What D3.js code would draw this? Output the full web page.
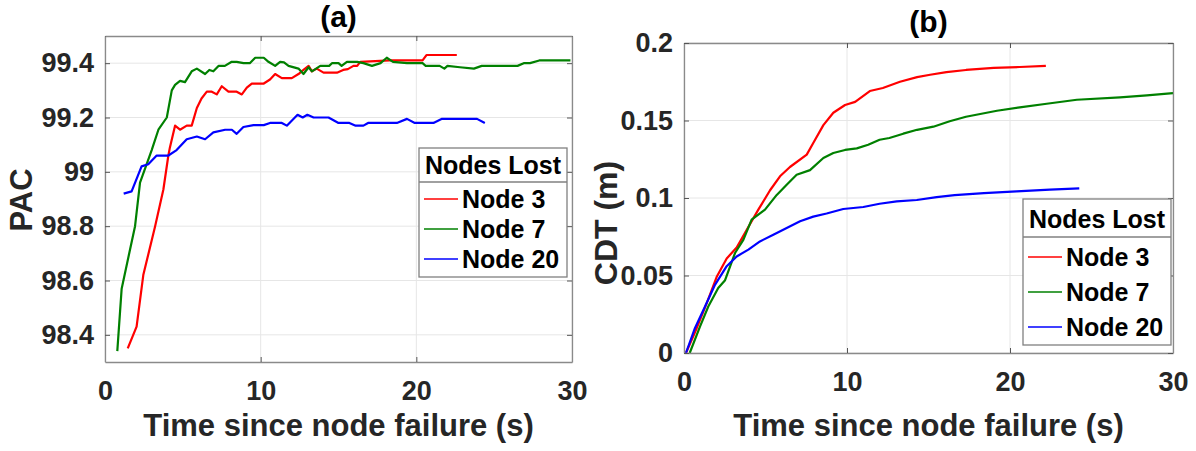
<!DOCTYPE html>
<html>
<head>
<meta charset="utf-8">
<script src="https://cdn.jsdelivr.net/npm/d3@7"></script>
<style>
  body { margin: 0; background: #fff; }
  text { font-family: "Liberation Sans", Arial, sans-serif; font-weight: bold; }
</style>
</head>
<body>
<svg id="chart" width="1196" height="451"></svg>
<script>
// series names + colours
var seriesNames = ['Node 3', 'Node 7', 'Node 20']
var seriesColors = ['#ff0000', '#008000', '#0000ff']

// (a) PAC vs time, [t, value]
var pacNode3 = [[1.46,98.35],[2.03,98.43],[2.46,98.62],[3.22,98.80],[3.75,98.935],[4.07,99.06],[4.17,99.09],[4.5,99.17],[4.82,99.155],[5.25,99.17],[5.57,99.17],[5.9,99.235],[6.2,99.27],[6.54,99.295],[6.86,99.295],[7.18,99.285],[7.5,99.315],[7.93,99.295],[8.46,99.295],[8.79,99.285],[9.11,99.31],[9.43,99.325],[10.2,99.325],[10.6,99.34],[10.93,99.36],[11.36,99.345],[12.0,99.345],[12.43,99.36],[12.75,99.375],[13.08,99.39],[13.29,99.37],[13.6,99.38],[14.04,99.365],[14.9,99.365],[15.3,99.375],[15.6,99.378],[15.96,99.39],[16.2,99.39],[16.4,99.405],[18.3,99.41],[20.4,99.41],[20.65,99.43],[22.6,99.43]]
var pacNode7 = [[0.79,98.34],[1.07,98.57],[1.93,98.80],[2.25,98.96],[3.0,99.08],[3.43,99.155],[3.97,99.20],[4.29,99.30],[4.5,99.32],[4.82,99.335],[5.14,99.33],[5.57,99.37],[5.9,99.38],[6.43,99.36],[6.7,99.375],[6.96,99.37],[7.29,99.39],[7.7,99.39],[8.14,99.405],[8.46,99.405],[8.9,99.40],[9.3,99.40],[9.65,99.42],[10.2,99.42],[10.5,99.405],[10.93,99.39],[11.25,99.405],[11.5,99.403],[11.79,99.39],[12.43,99.38],[12.75,99.36],[13.08,99.385],[13.29,99.37],[13.83,99.39],[14.4,99.39],[14.58,99.40],[15.0,99.40],[15.2,99.39],[15.54,99.405],[16.2,99.405],[16.6,99.40],[17.15,99.39],[17.7,99.40],[18.1,99.42],[18.5,99.405],[19.4,99.40],[20.4,99.40],[20.6,99.39],[21.5,99.39],[21.8,99.38],[22.0,99.39],[22.8,99.385],[23.7,99.38],[24.2,99.39],[26.5,99.39],[26.9,99.40],[27.3,99.40],[27.9,99.41],[29.9,99.41]]
var pacNode20 = [[1.2,98.92],[1.71,98.928],[2.35,99.02],[2.78,99.028],[3.32,99.06],[4.07,99.06],[4.6,99.08],[5.25,99.12],[5.9,99.13],[6.43,99.12],[6.96,99.145],[7.72,99.155],[8.15,99.155],[8.46,99.14],[8.89,99.165],[9.54,99.172],[10.2,99.172],[10.6,99.18],[11.36,99.18],[11.68,99.17],[12.37,99.21],[12.7,99.20],[13.0,99.21],[13.4,99.20],[14.36,99.20],[15.0,99.18],[15.7,99.18],[16.1,99.17],[16.6,99.17],[16.9,99.18],[18.75,99.18],[19.4,99.195],[19.9,99.18],[21.1,99.18],[21.65,99.195],[23.9,99.195],[24.4,99.18]]

// (b) CDT vs time, [t, value]
var cdtNode3 = [[0.12,0],[0.78,0.016],[1.39,0.032],[2.0,0.049],[2.62,0.061],[3.23,0.068],[3.85,0.0795],[4.56,0.0925],[5.28,0.105],[5.89,0.114],[6.5,0.120],[7.53,0.128],[7.93,0.1355],[8.55,0.147],[9.16,0.155],[9.88,0.160],[10.5,0.162],[11.4,0.169],[12.2,0.171],[13.25,0.175],[14.3,0.178],[15.1,0.1795],[16.1,0.1812],[17.3,0.1826],[19.0,0.1839],[20.6,0.1845],[22.2,0.1853]]
var cdtNode7 = [[0.35,0],[0.98,0.017],[1.49,0.030],[2.1,0.042],[2.52,0.047],[3.13,0.0645],[3.64,0.073],[4.15,0.086],[4.97,0.0925],[5.69,0.102],[6.3,0.1086],[6.91,0.115],[7.73,0.118],[8.55,0.1258],[9.16,0.129],[9.88,0.131],[10.6,0.132],[11.3,0.1344],[12.0,0.1376],[12.6,0.1387],[13.45,0.1415],[14.3,0.144],[15.3,0.146],[16.3,0.1495],[17.3,0.1524],[19.2,0.1563],[20.6,0.1585],[22.25,0.1608],[24.1,0.1634],[26.75,0.1649],[28.4,0.1662],[30.0,0.1677]]
var cdtNode20 = [[0.12,0],[0.67,0.016],[1.29,0.030],[1.9,0.044],[2.62,0.056],[3.23,0.0623],[3.95,0.0667],[4.66,0.072],[5.48,0.0763],[6.3,0.0806],[7.12,0.085],[7.93,0.088],[8.75,0.090],[9.77,0.0929],[11.0,0.0942],[12.0,0.0963],[13.05,0.0978],[14.28,0.0987],[15.5,0.1006],[16.6,0.1018],[18.4,0.1032],[20.4,0.1043],[22.45,0.1054],[24.25,0.1062]]

var xTicks = [0, 10, 20, 30]
var pacTicks = [98.4, 98.6, 98.8, 99, 99.2, 99.4]
var cdtTicks = [0, 0.05, 0.1, 0.15, 0.2]

var svg = d3.select('#chart')

function panel(cfg) {
  var x = d3.scaleLinear().domain([0, 30]).range([cfg.left, cfg.right])
  var y = d3.scaleLinear().domain(cfg.yDomain).range([cfg.bottom, cfg.top])
  var g = svg.append('g')

  // grid
  g.selectAll('.gx').data(xTicks).enter().append('line')
    .attr('x1', d => x(d)).attr('x2', d => x(d))
    .attr('y1', cfg.top).attr('y2', cfg.bottom)
    .attr('stroke', '#e6e6e6').attr('stroke-width', 1)
  g.selectAll('.gy').data(cfg.yTicks).enter().append('line')
    .attr('x1', cfg.left).attr('x2', cfg.right)
    .attr('y1', d => y(d)).attr('y2', d => y(d))
    .attr('stroke', '#e6e6e6').attr('stroke-width', 1)

  // lines
  var line = d3.line().x(d => x(d[0])).y(d => y(d[1]))
  cfg.series.forEach(function(s, i) {
    g.append('path').datum(s)
      .attr('d', line)
      .attr('fill', 'none')
      .attr('stroke', seriesColors[i])
      .attr('stroke-width', 2.2)
      .attr('stroke-linejoin', 'round')
  })

  // axes (inward ticks, mirrored box)
  var tk = 5
  var bottom = g.append('g').attr('transform', 'translate(0,' + cfg.bottom + ')')
    .call(d3.axisBottom(x).tickValues(xTicks).tickSizeInner(-tk).tickSizeOuter(0).tickPadding(12))
  var top = g.append('g').attr('transform', 'translate(0,' + cfg.top + ')')
    .call(d3.axisTop(x).tickValues(xTicks).tickSizeInner(-tk).tickSizeOuter(0).tickFormat(''))
  var left = g.append('g').attr('transform', 'translate(' + cfg.left + ',0)')
    .call(d3.axisLeft(y).tickValues(cfg.yTicks).tickSizeInner(-tk).tickSizeOuter(0).tickPadding(11)
      .tickFormat(d3.format('')))
  var right = g.append('g').attr('transform', 'translate(' + cfg.right + ',0)')
    .call(d3.axisRight(y).tickValues(cfg.yTicks).tickSizeInner(-tk).tickSizeOuter(0).tickFormat(''))
  ;[bottom, top, left, right].forEach(function(a) {
    a.select('.domain').attr('stroke', '#8a8a8a').attr('stroke-width', 1.3)
    a.selectAll('.tick line').attr('stroke', '#555')
    a.selectAll('.tick text').attr('fill', '#262626')
      .style('font-size', '27px').style('font-family', '"Liberation Sans", Arial, sans-serif')
      .style('font-weight', 'bold')
  })
  bottom.selectAll('.tick text').attr('dy', '0.95em')

  // title
  g.append('text').attr('x', (cfg.left + cfg.right) / 2).attr('y', cfg.titleY)
    .attr('text-anchor', 'middle').style('font-size', '30px').attr('fill', '#000')
    .text(cfg.title)

  // x label
  g.append('text').attr('x', (cfg.left + cfg.right) / 2).attr('y', 436)
    .attr('text-anchor', 'middle').style('font-size', '31px').attr('fill', '#262626')
    .text('Time since node failure (s)')

  // y label
  g.append('text')
    .attr('transform', 'translate(' + cfg.yLabelX + ',' + cfg.yLabelY + ') rotate(-90)')
    .attr('text-anchor', 'middle').style('font-size', cfg.yLabelSize + 'px').attr('fill', '#262626')
    .text(cfg.yLabel)

  // legend
  var L = cfg.legend
  var lg = g.append('g')
  lg.append('rect').attr('x', L.x).attr('y', L.y).attr('width', L.w).attr('height', L.h)
    .attr('fill', '#fff').attr('stroke', '#808080').attr('stroke-width', 1.3)
  lg.append('line').attr('x1', L.x).attr('x2', L.x + L.w).attr('y1', L.div).attr('y2', L.div)
    .attr('stroke', '#808080').attr('stroke-width', 1.3)
  lg.append('text').attr('x', L.x + L.w / 2).attr('y', L.titleY)
    .attr('text-anchor', 'middle').style('font-size', '25px').attr('fill', '#000')
    .text('Nodes Lost')
  seriesNames.forEach(function(n, i) {
    var by = L.rowY + i * L.rowStep
    lg.append('line').attr('x1', L.x + 5).attr('x2', L.x + 39)
      .attr('y1', by - 9).attr('y2', by - 9)
      .attr('stroke', seriesColors[i]).attr('stroke-width', 1.6)
    lg.append('text').attr('x', L.x + 43).attr('y', by)
      .style('font-size', '25px').attr('fill', '#000').text(n)
  })
}

panel({
  left: 105, right: 572, top: 36, bottom: 362,
  yDomain: [98.3, 99.5], yTicks: pacTicks,
  series: [pacNode3, pacNode7, pacNode20],
  title: '(a)', titleY: 27,
  yLabel: 'PAC', yLabelX: 32, yLabelY: 200, yLabelSize: 31,
  legend: { x: 419, y: 148, w: 148, h: 129, div: 182, titleY: 174, rowY: 208, rowStep: 30 }
})

panel({
  left: 684, right: 1173, top: 43, bottom: 353,
  yDomain: [0, 0.2], yTicks: cdtTicks,
  series: [cdtNode3, cdtNode7, cdtNode20],
  title: '(b)', titleY: 32,
  yLabel: 'CDT (m)', yLabelX: 617, yLabelY: 223, yLabelSize: 32,
  legend: { x: 1023, y: 199, w: 148, h: 146, div: 237, titleY: 228, rowY: 266, rowStep: 35 }
})
</script>
</body>
</html>
